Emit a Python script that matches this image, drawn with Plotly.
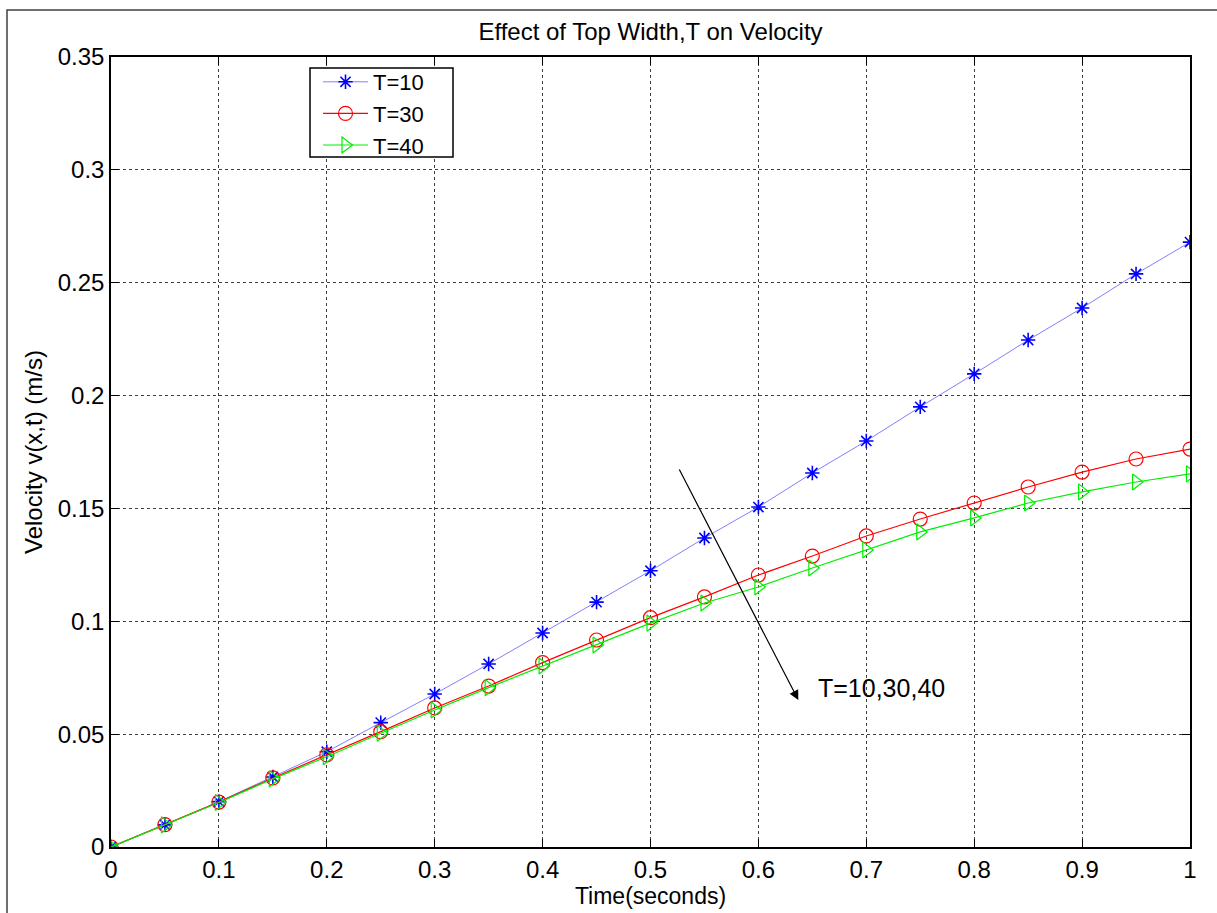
import plotly.graph_objects as go

time = [0, 0.05, 0.1, 0.15, 0.2, 0.25, 0.3, 0.35, 0.4, 0.45, 0.5,
        0.55, 0.6, 0.65, 0.7, 0.75, 0.8, 0.85, 0.9, 0.95, 1.0]
v_T10 = [0, 0.0098, 0.0201, 0.0310, 0.0422, 0.0551, 0.0678, 0.0811, 0.0948, 0.1085, 0.1224,
         0.1369, 0.1506, 0.1657, 0.1799, 0.1950, 0.2096, 0.2246, 0.2388, 0.2539, 0.2680]
v_T30 = [0, 0.0099, 0.0199, 0.0306, 0.0408, 0.0511, 0.0616, 0.0713, 0.0817, 0.0917, 0.1016,
         0.1108, 0.1205, 0.1289, 0.1378, 0.1453, 0.1524, 0.1595, 0.1661, 0.1719, 0.1763]
v_T40 = [0, 0.0098, 0.0197, 0.0302, 0.0400, 0.0504, 0.0607, 0.0706, 0.0802, 0.0895, 0.0992,
         0.1081, 0.1152, 0.1236, 0.1316, 0.1396, 0.1458, 0.1524, 0.1573, 0.1617, 0.1653]

x_ticks = [0, 0.1, 0.2, 0.3, 0.4, 0.5, 0.6, 0.7, 0.8, 0.9, 1]
y_ticks = [0, 0.05, 0.1, 0.15, 0.2, 0.25, 0.3, 0.35]

FONT = "Liberation Sans, Arial, sans-serif"

# plot area in pixels
L, R, T, B = 111, 1190, 57, 847
W_PA, H_PA = R - L, B - T


def px_x(p):
    return (p - L) / W_PA


def px_y(p):
    return (B - p) / H_PA


fig = go.Figure()
fig.add_trace(go.Scatter(
    x=time, y=v_T10, mode="lines+markers", name="T=10",
    line=dict(color="#8080ff", width=1),
    marker=dict(symbol="asterisk-open", size=12, color="#0000ff",
                line=dict(color="#0000ff", width=1.6)),
))
fig.add_trace(go.Scatter(
    x=time, y=v_T30, mode="lines+markers", name="T=30",
    line=dict(color="#ff0000", width=1.2),
    marker=dict(symbol="circle-open", size=14, color="#ff0000",
                line=dict(color="#ff0000", width=1.2)),
))
fig.add_trace(go.Scatter(
    x=time, y=v_T40, mode="lines+markers", name="T=40",
    line=dict(color="#00ee00", width=1.2),
    marker=dict(symbol="triangle-right-open", size=14, color="#00ee00",
                line=dict(color="#00ee00", width=1.2)),
))

# annotation arrow and label
fig.add_annotation(
    x=0.637, y=0.0651, ax=0.526, ay=0.1679,
    xref="x", yref="y", axref="x", ayref="y",
    showarrow=True, arrowhead=2, arrowsize=1.6, arrowwidth=1.2,
    arrowcolor="black", text="",
)
fig.add_annotation(
    x=0.653, y=0.0705, xref="x", yref="y", text="T=10,30,40",
    showarrow=False, xanchor="left", yanchor="middle",
    font=dict(family=FONT, size=25, color="black"),
)

# outer figure frame
fig.add_shape(type="rect", xref="paper", yref="paper",
              x0=px_x(7), x1=px_x(1245), y0=px_y(940), y1=px_y(10),
              line=dict(color="#404040", width=1.5), fillcolor="rgba(0,0,0,0)",
              layer="below")
# legend box
fig.add_shape(type="rect", xref="paper", yref="paper",
              x0=px_x(310), x1=px_x(453), y0=px_y(157), y1=px_y(68),
              line=dict(color="black", width=1.5), fillcolor="white",
              layer="above")

axis_common = dict(
    showline=True, linecolor="black", linewidth=1.5, mirror="ticks",
    ticks="inside", ticklen=8, tickcolor="black", tickwidth=1,
    showgrid=True, gridcolor="#404040", griddash="dot", gridwidth=1,
    zeroline=False,
    tickfont=dict(family=FONT, size=24, color="black"),
)

fig.update_layout(
    width=1217, height=913,
    margin=dict(l=L, r=1217 - R, t=T, b=913 - B, autoexpand=False),
    paper_bgcolor="white", plot_bgcolor="white",
    title=dict(text="Effect of Top Width,T on Velocity",
               x=(L + R) / 2 / 1217, xanchor="center",
               y=1 - 32 / 913, yanchor="middle",
               font=dict(family=FONT, size=24, color="black")),
    xaxis=dict(range=[0, 1], tickvals=x_ticks,
               title=dict(text="Time(seconds)", standoff=6,
                          font=dict(family=FONT, size=23, color="black")),
               **axis_common),
    yaxis=dict(range=[0, 0.35], tickvals=y_ticks,
               title=dict(text="Velocity v(x,t) (m/s)", standoff=8,
                          font=dict(family=FONT, size=24, color="black")),
               **axis_common),
    legend=dict(x=px_x(318), y=px_y(61), xanchor="left", yanchor="top",
                bgcolor="rgba(0,0,0,0)", borderwidth=0,
                font=dict(family=FONT, size=22, color="black"),
                itemwidth=45, tracegroupgap=0),
    showlegend=True,
)

fig.write_html("out.html")
